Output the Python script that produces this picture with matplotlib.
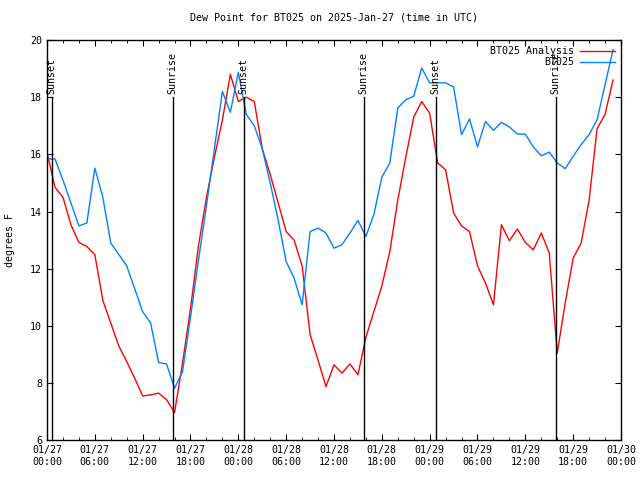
import matplotlib
matplotlib.use("Agg")
import matplotlib.pyplot as plt
import matplotlib.dates as mdates
import pandas as pd

plt.rcParams['font.family'] = ['DejaVu Sans Mono']

start = "2025-01-27 00:00"
times = pd.date_range(start, periods=72, freq="h")

analysis = [16.07, 14.85, 14.5, 13.54, 12.92, 12.78, 12.49, 10.9, 10.1, 9.3,
            8.75, 8.17, 7.55, 7.59, 7.65, 7.42, 6.97, 8.7, 10.6, 12.8,
            14.5, 15.9, 17.2, 18.8, 17.85, 18.0, 17.85, 16.2, 15.3, 14.3,
            13.3, 13.0, 12.1, 9.7, 8.8, 7.88, 8.64, 8.35, 8.67, 8.29,
            9.6, 10.5, 11.4, 12.6, 14.4, 15.9, 17.3, 17.85, 17.44, 15.7,
            15.46, 13.95, 13.5, 13.3, 12.1, 11.5, 10.74, 13.54, 12.98, 13.39,
            12.92, 12.66, 13.25, 12.55, 9.05, 10.8, 12.37, 12.9, 14.4, 16.9,
            17.4, 18.6]

station = [15.84, 15.84, 15.1, 14.3, 13.5, 13.6, 15.52, 14.5, 12.9, 12.5,
           12.1, 11.3, 10.5, 10.1, 8.72, 8.67, 7.82, 8.4, 10.3, 12.3,
           14.2, 16.2, 18.2, 17.47, 18.87, 17.4, 17.0, 16.2, 15.0, 13.7,
           12.25, 11.67, 10.74, 13.3, 13.42, 13.25, 12.72, 12.84, 13.25, 13.69,
           13.13, 13.9, 15.2, 15.7, 17.62, 17.91, 18.03, 19.02, 18.5, 18.5,
           18.5, 18.36, 16.69, 17.24, 16.26, 17.15, 16.84, 17.12, 16.96, 16.71,
           16.71, 16.26, 15.95, 16.08, 15.7, 15.5, 15.93, 16.34, 16.69, 17.21,
           18.44, 19.66]

event_labels = ["Sunset", "Sunrise", "Sunset", "Sunrise", "Sunset", "Sunrise"]
event_times = ["2025-01-27 00:35", "2025-01-27 15:45", "2025-01-28 00:40",
               "2025-01-28 15:44", "2025-01-29 00:45", "2025-01-29 15:48"]

fs = 7.2
fig = plt.figure(figsize=(6.4, 4.8), dpi=100)
ax = fig.add_axes([47/640, (480-440.3)/480, (621-47)/640, (440.3-40)/480])

ax.plot(times, analysis, color="#ff0000", lw=1.0, label="BT025 Analysis")
ax.plot(times, station, color="#0080ff", lw=1.0, label="BT025")

for lab, t in zip(event_labels, event_times):
    tt = pd.Timestamp(t)
    ax.plot([tt, tt], [6, 18], color="black", lw=1.0)
    ax.text(tt, 18.1, lab, rotation=90, ha="center", va="bottom", fontsize=fs)

ax.set_xlim(pd.Timestamp("2025-01-27 00:00"), pd.Timestamp("2025-01-30 00:00"))
ax.set_ylim(6, 20)
ax.set_yticks([6, 8, 10, 12, 14, 16, 18, 20])
ax.xaxis.set_major_locator(mdates.HourLocator(byhour=[0, 6, 12, 18]))
ax.xaxis.set_minor_locator(mdates.HourLocator(interval=2))
ax.xaxis.set_major_formatter(mdates.DateFormatter("%m/%d\n%H:%M"))
ax.tick_params(axis="both", which="both", direction="in", top=True, right=True,
               labelsize=fs)
ax.tick_params(which="major", length=4)
ax.tick_params(which="minor", length=2.5)
for s in ax.spines.values():
    s.set_linewidth(1.0)

ax.set_title("Dew Point for BT025 on 2025-Jan-27 (time in UTC)", fontsize=fs, pad=14)
ax.set_ylabel("degrees F", fontsize=fs, labelpad=11)

leg = ax.legend(loc="upper right", frameon=False, markerfirst=False,
                fontsize=fs, handlelength=3.5, borderaxespad=0.2,
                labelspacing=0.1, handletextpad=0.6)

fig.savefig("out.png", dpi=100)
